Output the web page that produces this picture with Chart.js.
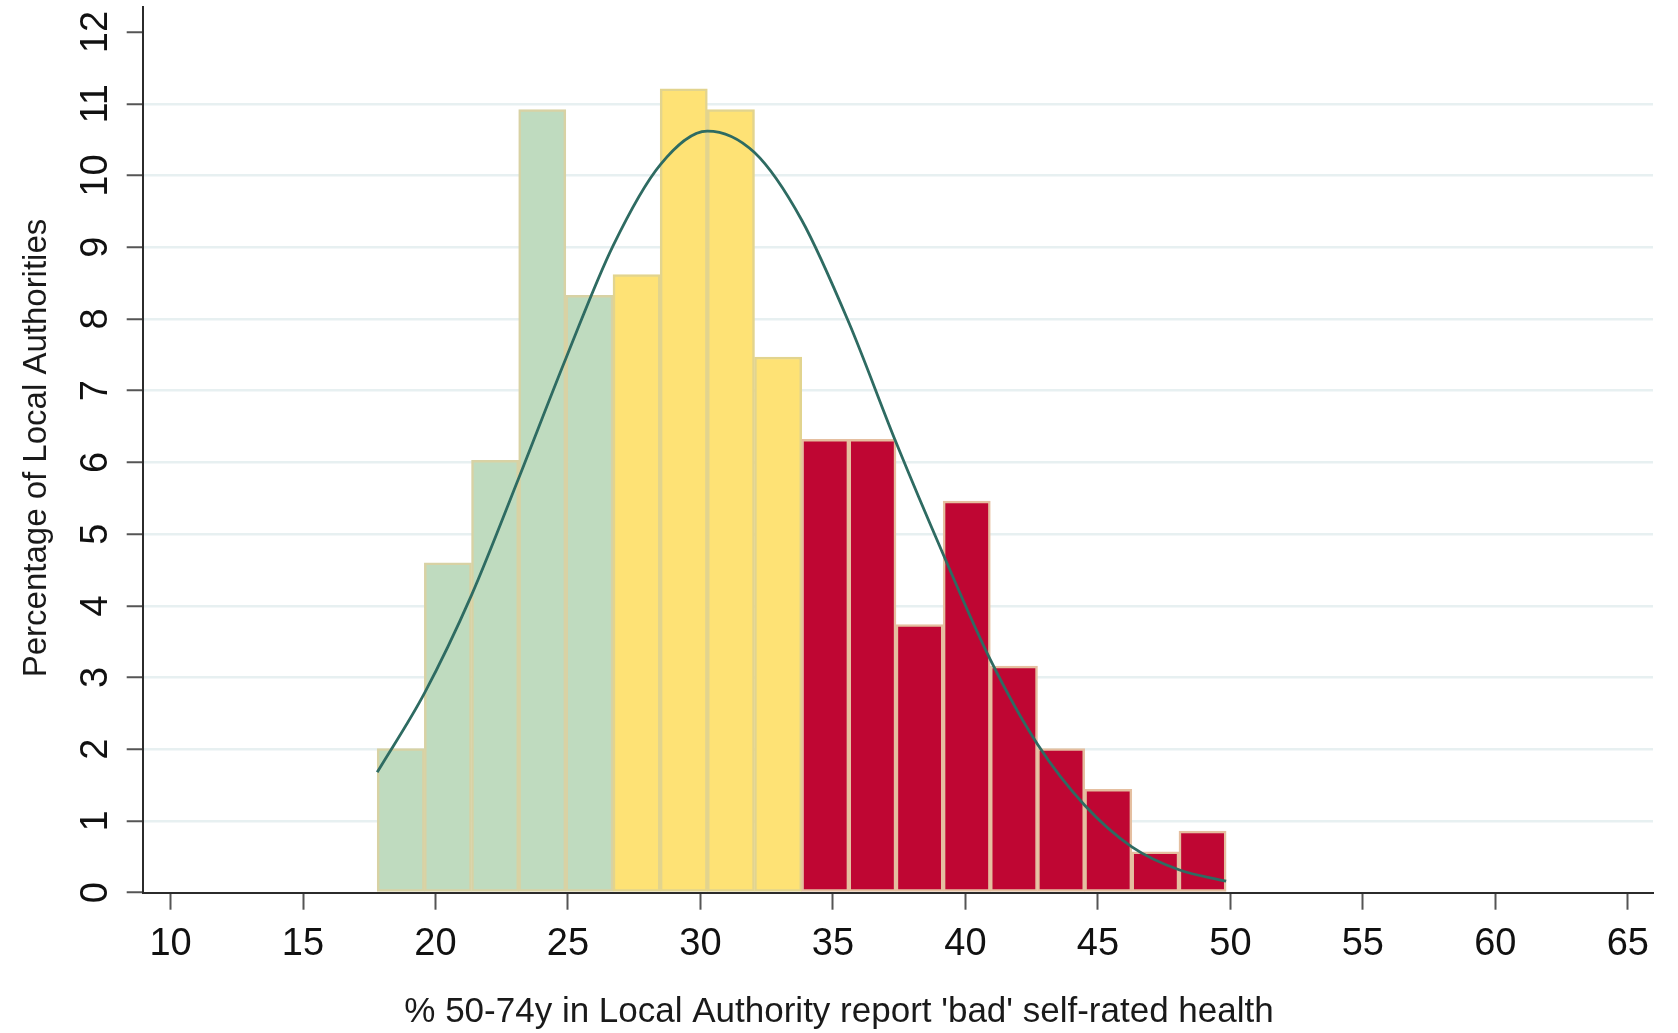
<!DOCTYPE html>
<html>
<head>
<meta charset="utf-8">
<title>Bad self-rated health histogram</title>
<script src="https://cdn.jsdelivr.net/npm/chart.js@4.4.1/dist/chart.umd.min.js"></script>
<style>
    body { margin: 0; background: #ffffff; }
    #wrap { width: 1678px; height: 1033px; position: relative; }
</style>
</head>
<body>
<div id="wrap"><canvas id="histChart"></canvas></div>
<script>
// histogram bins (bin centres, width 1.78)
const binCentres = [18.69, 20.47, 22.25, 24.03, 25.81, 27.59, 29.37, 31.15, 32.93,
                    34.71, 36.49, 38.27, 40.05, 41.83, 43.61, 45.39, 47.17, 48.95];
const binPercent = [2.01, 4.60, 6.03, 10.92, 8.33, 8.62, 11.21, 10.92, 7.47,
                    6.32, 6.32, 3.74, 5.46, 3.16, 2.01, 1.44, 0.57, 0.86];
// which colour group each bin belongs to
const binGroup = ['low', 'low', 'low', 'low', 'low', 'mid', 'mid', 'mid', 'mid',
                  'high', 'high', 'high', 'high', 'high', 'high', 'high', 'high', 'high'];

// normal curve at the bin edges
const curveX = [17.8, 19.58, 21.36, 23.14, 24.92, 26.7, 28.48, 30.26, 32.04, 33.82,
                35.6, 37.38, 39.16, 40.94, 42.72, 44.5, 46.28, 48.06, 49.84];
const curveY = [1.68, 2.78, 4.15, 5.78, 7.45, 9.02, 10.15, 10.62, 10.32, 9.38,
                7.95, 6.28, 4.72, 3.25, 2.07, 1.22, 0.64, 0.32, 0.16];

const xTicks = [10, 15, 20, 25, 30, 35, 40, 45, 50, 55, 60, 65];
const yTicks = [0, 1, 2, 3, 4, 5, 6, 7, 8, 9, 10, 11, 12];

const xTitle = "% 50-74y in Local Authority report 'bad' self-rated health";
const yTitle = 'Percentage of Local Authorities';

const fillColours = { low: '#bfdbbf', mid: '#fee275', high: '#bf0633' };
const edgeColours = { low: '#d8d2a4', mid: '#e2d48e', high: '#e5bfa0' };

const FONT = '"Liberation Sans", Arial, sans-serif';

// y labels are rotated in the original, so draw them and the titles here
const textPlugin = {
    id: 'stataText',
    afterDraw(chart) {
        const ctx = chart.ctx;
        const ys = chart.scales.y;
        ctx.save();
        ctx.fillStyle = '#111111';
        ctx.font = '38px ' + FONT;
        ctx.textAlign = 'center';
        ctx.textBaseline = 'middle';
        yTicks.forEach(function (v) {
            ctx.save();
            ctx.translate(97, ys.getPixelForValue(v));
            ctx.rotate(-Math.PI / 2);
            ctx.fillText(String(v), 0, 0);
            ctx.restore();
        });

        ctx.fillStyle = '#1a1a1a';
        ctx.font = '35px ' + FONT;
        ctx.fillText(xTitle, 839, 1012);

        ctx.font = '33px ' + FONT;
        ctx.save();
        ctx.translate(37, 448);
        ctx.rotate(-Math.PI / 2);
        ctx.fillText(yTitle, 0, 0);
        ctx.restore();
        ctx.restore();
    }
};

var histCanvas = document.getElementById('histChart').getContext('2d');
var histChart = new Chart(histCanvas, {
    type: 'bar',
    data: {
        datasets: [{
            type: 'line',
            label: 'Normal density',
            data: curveX.map((x, i) => ({ x: x, y: curveY[i] })),
            borderColor: '#2e6b62',
            borderWidth: 2.8,
            pointRadius: 0,
            cubicInterpolationMode: 'monotone',
            fill: false,
            order: 0
        }, {
            label: 'Percentage',
            data: binCentres.map((x, i) => ({ x: x, y: binPercent[i] })),
            backgroundColor: binGroup.map(g => fillColours[g]),
            borderColor: binGroup.map(g => edgeColours[g]),
            borderWidth: 2.5,
            borderSkipped: false,
            barPercentage: 1.0,
            categoryPercentage: 1.0,
            order: 1
        }]
    },
    options: {
        responsive: true,
        maintainAspectRatio: false,
        animation: false,
        events: [],
        layout: { padding: { top: 7, right: 25, left: 0, bottom: 0 } },
        plugins: {
            legend: { display: false },
            tooltip: { enabled: false }
        },
        scales: {
            x: {
                type: 'linear',
                offset: false,
                min: 8.95,
                max: 65.95,
                afterBuildTicks: s => { s.ticks = xTicks.map(v => ({ value: v })); },
                afterFit: s => { s.height = 140.3; },
                border: { color: '#2b2b2b', width: 2 },
                grid: {
                    offset: false,
                    drawOnChartArea: false,
                    tickLength: 17,
                    tickColor: '#555555',
                    tickWidth: 2
                },
                ticks: {
                    color: '#111111',
                    font: { family: FONT, size: 38 },
                    padding: 12,
                    maxRotation: 0,
                    autoSkip: false
                }
            },
            y: {
                min: 0,
                max: 12.35,
                afterBuildTicks: s => { s.ticks = yTicks.map(v => ({ value: v })); },
                afterFit: s => { s.width = 142.7; },
                border: { color: '#2b2b2b', width: 2 },
                grid: {
                    color: c => (c.tick && c.tick.value > 0 && c.tick.value < 12) ? '#e7f0f1' : 'rgba(0,0,0,0)',
                    lineWidth: 2.5,
                    tickLength: 16,
                    tickColor: '#555555',
                    tickWidth: 2
                },
                ticks: { display: false }
            }
        }
    },
    plugins: [textPlugin]
});
</script>
</body>
</html>
